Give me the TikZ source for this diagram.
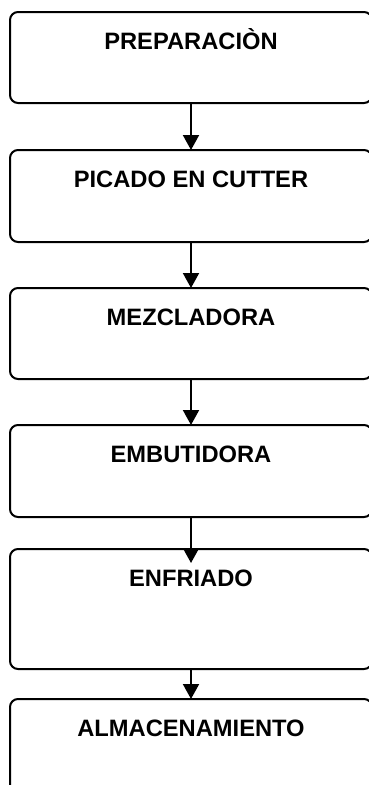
\documentclass[tikz,border=0pt]{standalone}
\usepackage{fontspec}
\setmainfont{Liberation Sans}
\usetikzlibrary{arrows.meta}

\begin{document}
\begin{tikzpicture}[x=1pt,y=-1pt,
  stepbox/.style={draw, line width=2pt, rounded corners=8pt, outer sep=0pt,
    minimum width=362pt, inner xsep=0pt, inner ysep=0pt, anchor=north,
    font=\fontsize{23.7}{28}\selectfont\bfseries,
    text height=37pt, text depth={#1-37pt}, minimum height=#1},
  flow/.style={line width=2pt, -{Triangle[width=16pt,length=15pt]}}]
  \useasboundingbox (0,0) rectangle (369,785);
  \clip (0,0) rectangle (369,785);

  % process steps
  \node[stepbox=91pt]  (b1) at (191,12)  {PREPARACIÒN};
  \node[stepbox=92pt]  (b2) at (191,150) {PICADO EN CUTTER};
  \node[stepbox=91pt]  (b3) at (191,288) {MEZCLADORA};
  \node[stepbox=92pt]  (b4) at (191,425) {EMBUTIDORA};
  \node[stepbox=120pt] (b5) at (191,549) {ENFRIADO};
  \node[stepbox=120pt] (b6) at (191,699) {ALMACENAMIENTO};

  % connectors
  \draw[flow] (b1.south) -- (b2.north);
  \draw[flow] (b2.south) -- (b3.north);
  \draw[flow] (b3.south) -- (b4.north);
  \draw[flow] (b4.south) -- ([yshift=-14pt]b5.north);
  \draw[flow] (b5.south) -- (b6.north);
\end{tikzpicture}
\end{document}
